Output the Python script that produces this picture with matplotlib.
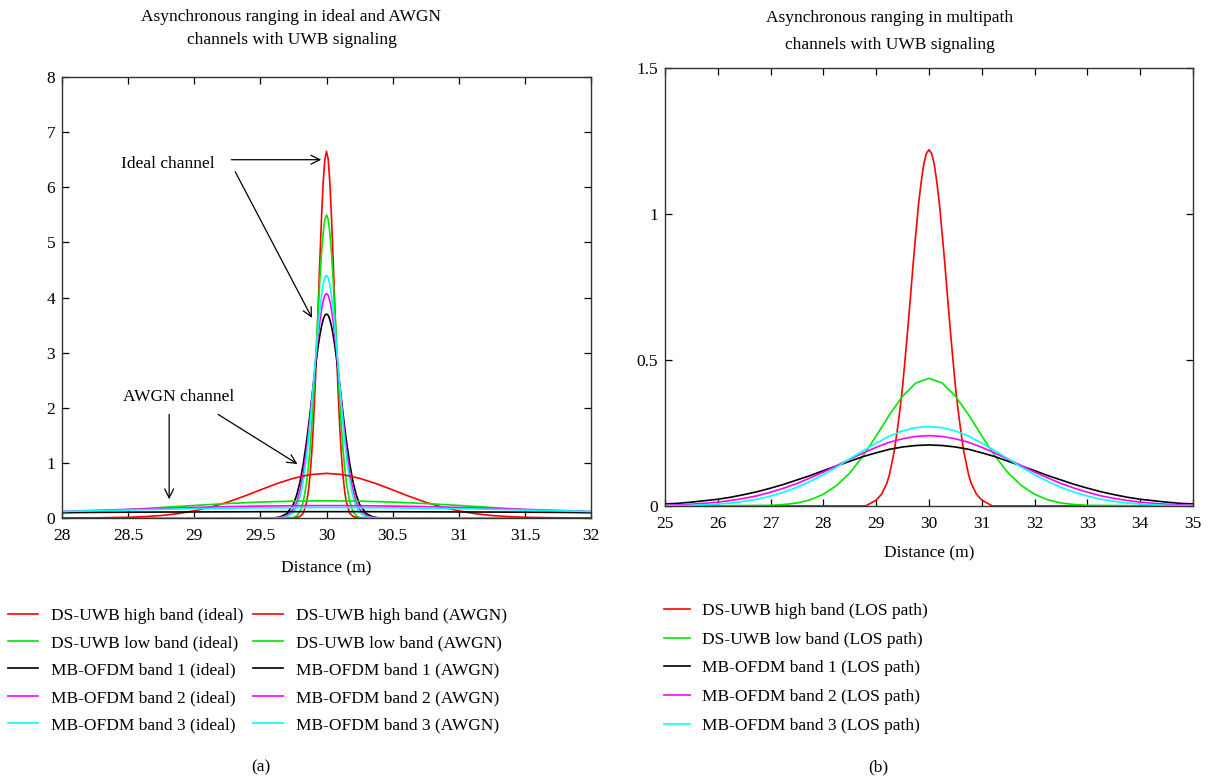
import matplotlib
matplotlib.use('Agg')
import matplotlib.pyplot as plt
from matplotlib.ticker import FormatStrFormatter

plt.rcParams['font.family'] = 'Liberation Serif'
plt.rcParams['font.size'] = 12.5

# Colores y nombres de las series
colors = ['#ff0000', '#00e600', '#000000', '#ff00ff', '#00ffff']
names = ['DS-UWB high band', 'DS-UWB low band', 'MB-OFDM band 1',
         'MB-OFDM band 2', 'MB-OFDM band 3']

# (a) canal ideal: puntos
x_ideal = [28.0, 29.6, 29.65, 29.7, 29.75, 29.775, 29.8, 29.825, 29.85, 29.8625,
           29.875, 29.8875, 29.9, 29.9125, 29.925, 29.9375, 29.95, 29.9625, 29.975,
           29.9875, 30.0, 30.0125, 30.025, 30.0375, 30.05, 30.0625, 30.075, 30.0875,
           30.1, 30.1125, 30.125, 30.1375, 30.15, 30.175, 30.2, 30.225, 30.25, 30.3,
           30.35, 30.4, 32.0]
ideal_high = [0, 0, 0, 0, 0, 0.01, 0.03, 0.09, 0.29, 0.48, 0.76, 1.15, 1.66, 2.30,
              3.05, 3.87, 4.70, 5.47, 6.10, 6.51, 6.65, 6.51, 6.10, 5.47, 4.70, 3.87,
              3.05, 2.30, 1.66, 1.15, 0.76, 0.48, 0.29, 0.09, 0.03, 0.01, 0, 0, 0, 0, 0]
ideal_low = [0, 0, 0, 0, 0.01, 0.04, 0.12, 0.30, 0.65, 0.91, 1.24, 1.65, 2.12, 2.65,
             3.22, 3.79, 4.33, 4.81, 5.18, 5.42, 5.50, 5.42, 5.18, 4.81, 4.33, 3.79,
             3.22, 2.65, 2.12, 1.65, 1.24, 0.91, 0.65, 0.30, 0.12, 0.04, 0.01, 0, 0, 0, 0]
ideal_b1 = [0, 0, 0.02, 0.08, 0.25, 0.42, 0.66, 0.99, 1.41, 1.64, 1.89, 2.15, 2.41, 2.66,
            2.90, 3.13, 3.32, 3.48, 3.60, 3.68, 3.70, 3.68, 3.60, 3.48, 3.32, 3.13,
            2.90, 2.66, 2.41, 2.15, 1.89, 1.64, 1.41, 0.99, 0.66, 0.42, 0.25, 0.08, 0.02, 0, 0]
ideal_b2 = [0, 0, 0.01, 0.04, 0.16, 0.29, 0.51, 0.83, 1.26, 1.52, 1.80, 2.11, 2.42, 2.73,
            3.04, 3.32, 3.57, 3.78, 3.94, 4.04, 4.07, 4.04, 3.94, 3.78, 3.57, 3.32,
            3.04, 2.73, 2.42, 2.11, 1.80, 1.52, 1.26, 0.83, 0.51, 0.29, 0.16, 0.04, 0.01, 0, 0]
ideal_b3 = [0, 0, 0, 0.02, 0.10, 0.20, 0.39, 0.68, 1.12, 1.39, 1.70, 2.04, 2.39, 2.76,
            3.12, 3.47, 3.78, 4.04, 4.24, 4.36, 4.40, 4.36, 4.24, 4.04, 3.78, 3.47,
            3.12, 2.76, 2.39, 2.04, 1.70, 1.39, 1.12, 0.68, 0.39, 0.20, 0.10, 0.02, 0, 0, 0]

# (a) canal AWGN
x_awgn_high = [28.0, 28.25, 28.5, 28.625, 28.75, 28.875, 29.0, 29.125, 29.25, 29.375,
               29.5, 29.625, 29.75, 29.875, 30.0, 30.125, 30.25, 30.375, 30.5, 30.625,
               30.75, 30.875, 31.0, 31.125, 31.25, 31.375, 31.5, 31.75, 32.0]
awgn_high = [0, 0.003, 0.013, 0.025, 0.045, 0.078, 0.13, 0.197, 0.286, 0.393,
             0.51, 0.624, 0.72, 0.787, 0.81, 0.787, 0.72, 0.624, 0.51, 0.393,
             0.286, 0.197, 0.13, 0.078, 0.045, 0.025, 0.013, 0.003, 0]
x_awgn = [28.0, 28.25, 28.5, 28.75, 29.0, 29.25, 29.5, 29.75, 30.0,
          30.25, 30.5, 30.75, 31.0, 31.25, 31.5, 31.75, 32.0]
awgn_low = [0.092, 0.118, 0.152, 0.190, 0.228, 0.262, 0.289, 0.306, 0.312,
            0.306, 0.289, 0.262, 0.228, 0.190, 0.152, 0.118, 0.092]
awgn_b1 = [0.098, 0.102, 0.105, 0.108, 0.110, 0.112, 0.114, 0.115, 0.115,
           0.115, 0.114, 0.112, 0.110, 0.108, 0.105, 0.102, 0.098]
awgn_b2 = [0.119, 0.138, 0.157, 0.175, 0.192, 0.206, 0.216, 0.223, 0.225,
           0.223, 0.216, 0.206, 0.192, 0.175, 0.157, 0.138, 0.119]
awgn_b3 = [0.118, 0.131, 0.144, 0.157, 0.168, 0.177, 0.184, 0.188, 0.190,
           0.188, 0.184, 0.177, 0.168, 0.157, 0.144, 0.131, 0.118]

# (b) canal multitrayecto (LOS)
x_los_high = [25.0, 28.8, 29.0, 29.1, 29.2, 29.25, 29.3, 29.35, 29.4, 29.45, 29.5,
              29.55, 29.6, 29.65, 29.7, 29.75, 29.8, 29.85, 29.9, 29.95, 30.0,
              30.05, 30.1, 30.15, 30.2, 30.25, 30.3, 30.35, 30.4, 30.45, 30.5,
              30.55, 30.6, 30.65, 30.7, 30.75, 30.8, 30.9, 31.0, 31.2, 35.0]
los_high = [0, 0, 0.02, 0.04, 0.077, 0.107, 0.15, 0.196, 0.26, 0.330, 0.41,
            0.508, 0.61, 0.718, 0.83, 0.931, 1.03, 1.107, 1.17, 1.207, 1.22,
            1.207, 1.17, 1.107, 1.03, 0.931, 0.83, 0.718, 0.61, 0.508, 0.41,
            0.330, 0.26, 0.196, 0.15, 0.107, 0.077, 0.04, 0.02, 0, 0]
x_los_low = [25.0, 27.0, 27.25, 27.5, 27.75, 28.0, 28.25, 28.5, 28.75, 29.0, 29.25, 29.5,
             29.75, 30.0, 30.25, 30.5, 30.75, 31.0, 31.25, 31.5, 31.75, 32.0, 32.25,
             32.5, 32.75, 33.0, 35.0]
los_low = [0, 0.002, 0.005, 0.010, 0.021, 0.040, 0.070, 0.113, 0.171, 0.240, 0.312, 0.376,
           0.421, 0.437, 0.421, 0.376, 0.312, 0.240, 0.171, 0.113, 0.070, 0.040, 0.021,
           0.010, 0.005, 0.002, 0]
x_los = [25.0, 25.25, 25.5, 25.75, 26.0, 26.25, 26.5, 26.75, 27.0, 27.25, 27.5,
         27.75, 28.0, 28.25, 28.5, 28.75, 29.0, 29.25, 29.5, 29.75, 30.0,
         30.25, 30.5, 30.75, 31.0, 31.25, 31.5, 31.75, 32.0, 32.25, 32.5,
         32.75, 33.0, 33.25, 33.5, 33.75, 34.0, 34.25, 34.5, 34.75, 35.0]
los_b1 = [0.007, 0.009, 0.013, 0.018, 0.023, 0.030, 0.039, 0.049, 0.061, 0.074, 0.089,
          0.104, 0.121, 0.137, 0.153, 0.169, 0.182, 0.194, 0.202, 0.207, 0.209,
          0.207, 0.202, 0.194, 0.182, 0.169, 0.153, 0.137, 0.121, 0.104, 0.089,
          0.074, 0.061, 0.049, 0.039, 0.030, 0.023, 0.018, 0.013, 0.009, 0.007]
los_b2 = [0.003, 0.004, 0.006, 0.009, 0.013, 0.019, 0.026, 0.035, 0.047, 0.061, 0.077,
          0.096, 0.116, 0.138, 0.160, 0.181, 0.201, 0.218, 0.230, 0.238, 0.241,
          0.238, 0.230, 0.218, 0.201, 0.181, 0.160, 0.138, 0.116, 0.096, 0.077,
          0.061, 0.047, 0.035, 0.026, 0.019, 0.013, 0.009, 0.006, 0.004, 0.003]
los_b3 = [0.001, 0.001, 0.002, 0.004, 0.007, 0.010, 0.016, 0.023, 0.034, 0.047, 0.064,
          0.084, 0.107, 0.133, 0.161, 0.189, 0.215, 0.239, 0.257, 0.268, 0.272,
          0.268, 0.257, 0.239, 0.215, 0.189, 0.161, 0.133, 0.107, 0.084, 0.064,
          0.047, 0.034, 0.023, 0.016, 0.010, 0.007, 0.004, 0.002, 0.001, 0.001]

fig = plt.figure(figsize=(12.12, 7.82), dpi=100)
ax1 = fig.add_axes([0.0512, 0.3376, 0.4364, 0.5639])
ax2 = fig.add_axes([0.5487, 0.3530, 0.4356, 0.5601])

lw = 1.2
ideal = [ideal_high, ideal_low, ideal_b1, ideal_b2, ideal_b3]
awgn_x = [x_awgn_high, x_awgn, x_awgn, x_awgn, x_awgn]
awgn = [awgn_high, awgn_low, awgn_b1, awgn_b2, awgn_b3]
h_ideal, h_awgn = [], []
for y, c, n in zip(ideal, colors, names):
    h_ideal += ax1.plot(x_ideal, y, color=c, lw=lw, label=n + ' (ideal)')
for xx, y, c, n in zip(awgn_x, awgn, colors, names):
    h_awgn += ax1.plot(xx, y, color=c, lw=lw, label=n + ' (AWGN)')

los_x = [x_los_high, x_los_low, x_los, x_los, x_los]
los_y = [los_high, los_low, los_b1, los_b2, los_b3]
h_los = []
for xx, y, c, n in zip(los_x, los_y, colors, names):
    h_los += ax2.plot(xx, y, color=c, lw=lw, label=n + ' (LOS path)')

# Ejes estilo MATLAB
for ax in (ax1, ax2):
    ax.tick_params(direction='in', top=True, right=True, length=5, width=0.9,
                   labelsize=12.5)
    ax.tick_params(axis='x', pad=7)
    ax.tick_params(axis='y', pad=5)
    for s in ax.spines.values():
        s.set_linewidth(1.0)
        s.set_color('#333333')
    ax.xaxis.set_major_formatter(FormatStrFormatter('%g'))
    ax.yaxis.set_major_formatter(FormatStrFormatter('%g'))

ax1.set_xlim(28, 32)
ax1.set_ylim(0, 8)
ax1.set_xticks([28, 28.5, 29, 29.5, 30, 30.5, 31, 31.5, 32])
ax1.set_yticks(range(0, 9))
ax2.set_xlim(25, 35)
ax2.set_ylim(0, 1.5)
ax2.set_xticks(range(25, 36))
ax2.set_yticks([0, 0.5, 1, 1.5])

ax1.set_xlabel('Distance (m)', labelpad=12)
ax2.set_xlabel('Distance (m)', labelpad=10)

# Titulos
fig.text(0.2405, 0.989, 'Asynchronous ranging in ideal and AWGN\nchannels with UWB signaling',
         ha='center', va='top', linespacing=1.6)
fig.text(0.734, 0.987, 'Asynchronous ranging in multipath\nchannels with UWB signaling',
         ha='center', va='top', linespacing=1.9)

# Anotaciones
arw = dict(arrowstyle='->', color='k', lw=0.9, mutation_scale=16, shrinkA=0, shrinkB=0)
ax1.text(28.8, 6.43, 'Ideal channel', ha='center', va='center')
ax1.annotate('', xy=(29.96, 6.50), xytext=(29.28, 6.50), arrowprops=arw)
ax1.annotate('', xy=(29.89, 3.63), xytext=(29.31, 6.28), arrowprops=arw)
ax1.text(28.88, 2.20, 'AWGN channel', ha='center', va='center')
ax1.annotate('', xy=(28.81, 0.34), xytext=(28.81, 1.88), arrowprops=arw)
ax1.annotate('', xy=(29.78, 0.98), xytext=(29.18, 1.88), arrowprops=arw)

# Leyendas
fig.legend(h_ideal + h_awgn, [h.get_label() for h in h_ideal + h_awgn], ncol=2,
           loc='upper left', bbox_to_anchor=(0.001, 0.232), columnspacing=0.6,
           frameon=False, handlelength=1.7, handletextpad=0.75, labelspacing=0.65,
           borderaxespad=0, fontsize=12.5)
fig.legend(h_los, [h.get_label() for h in h_los], loc='upper left',
           bbox_to_anchor=(0.542, 0.238), frameon=False, handlelength=1.5,
           handletextpad=0.7, labelspacing=0.72, borderaxespad=0, fontsize=12.5)

fig.text(0.2155, 0.019, '(a)', ha='center', va='center')
fig.text(0.7245, 0.019, '(b)', ha='center', va='center')

fig.savefig('out.png', dpi=100)
